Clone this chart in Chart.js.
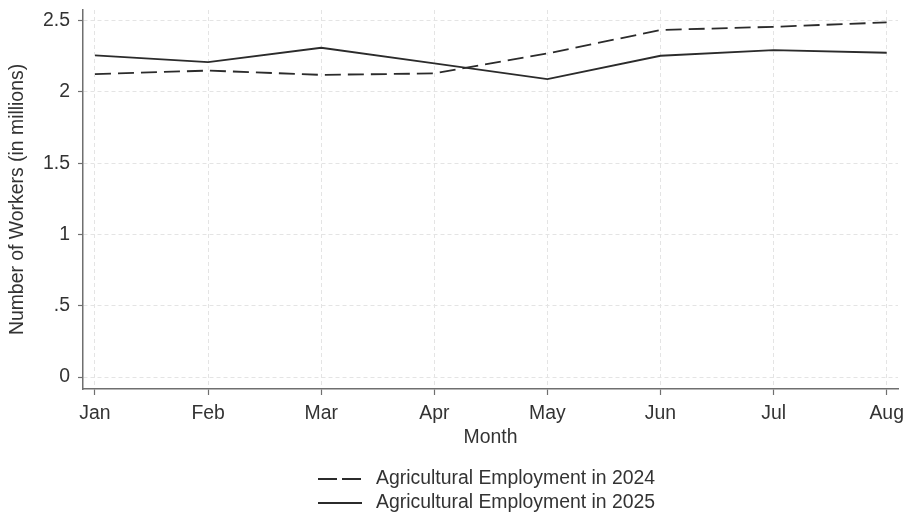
<!DOCTYPE html>
<html>
<head>
<meta charset="utf-8">
<title>Agricultural Employment</title>
<script src="https://cdn.jsdelivr.net/npm/chart.js@4/dist/chart.umd.min.js"></script>
<style>
  html, body { margin: 0; padding: 0; background: #ffffff; }
  #wrap { width: 905px; height: 517px; }
</style>
</head>
<body>
<div id="wrap"><canvas id="chart" width="905" height="517"></canvas></div>
<script>
// Monthly agricultural employment, millions of workers
const months = ['Jan', 'Feb', 'Mar', 'Apr', 'May', 'Jun', 'Jul', 'Aug'];
const employment2024 = [2.125, 2.15, 2.12, 2.13, 2.27, 2.435, 2.457, 2.488];
const employment2025 = [2.256, 2.21, 2.31, 2.20, 2.09, 2.254, 2.294, 2.275];
const yTickValues = [0, 0.5, 1, 1.5, 2, 2.5];
const yTickLabels = ['0', '.5', '1', '1.5', '2', '2.5'];
const seriesNames = ['Agricultural Employment in 2024', 'Agricultural Employment in 2025'];

const FONT = "'Liberation Sans', Arial, Helvetica, sans-serif";
const FSIZE = 19.4;
const TEXT = '#333333';
const AXIS = '#6f6f6f';
const GRID = '#e4e4e4';
const LINE = '#2b2b2b';

const toPoints = arr => arr.map((v, i) => ({ x: i, y: v }));

// Two-row legend centred below the month title
const stackedLegend = {
  id: 'stackedLegend',
  afterDraw(chart) {
    const ctx = chart.ctx;
    const rows = [479, 503];
    const x0 = 318, x1 = 362, tx = 376;
    ctx.save();
    chart.data.datasets.forEach((ds, i) => {
      const y = rows[i];
      ctx.beginPath();
      ctx.setLineDash(ds.borderDash && ds.borderDash.length ? [19, 5] : []);
      ctx.lineWidth = ds.borderWidth;
      ctx.strokeStyle = ds.borderColor;
      ctx.moveTo(x0, y);
      ctx.lineTo(x1, y);
      ctx.stroke();
      ctx.setLineDash([]);
      ctx.font = FSIZE + 'px ' + FONT;
      ctx.fillStyle = TEXT;
      ctx.textBaseline = 'middle';
      ctx.textAlign = 'left';
      ctx.fillText(ds.label, tx, y);
    });
    ctx.restore();
  }
};

new Chart(document.getElementById('chart'), {
  type: 'line',
  data: {
    datasets: [
      {
        label: seriesNames[0],
        data: toPoints(employment2024),
        borderColor: LINE,
        borderWidth: 1.8,
        borderDash: [16, 7],
        pointRadius: 0,
        tension: 0,
        fill: false
      },
      {
        label: seriesNames[1],
        data: toPoints(employment2025),
        borderColor: LINE,
        borderWidth: 1.8,
        pointRadius: 0,
        tension: 0,
        fill: false
      }
    ]
  },
  options: {
    responsive: false,
    animation: false,
    devicePixelRatio: 1,
    layout: { padding: { top: 10, right: 7, left: 0, bottom: 68 } },
    plugins: {
      legend: { display: false },
      tooltip: { enabled: false }
    },
    scales: {
      x: {
        type: 'linear',
        min: -0.106,
        max: 7.1,
        afterBuildTicks(scale) {
          scale.ticks = months.map((_, i) => ({ value: i }));
        },
        afterFit(scale) {
          scale.height = 60;
          scale.paddingLeft = 0;
          scale.paddingRight = 0;
        },
        ticks: {
          autoSkip: false,
          maxRotation: 0,
          padding: 7,
          color: TEXT,
          font: { family: FONT, size: FSIZE },
          callback: (v) => months[v]
        },
        grid: {
          color: GRID,
          lineWidth: 1,
          tickLength: 6,
          tickColor: AXIS,
          tickWidth: 1.2,
          tickBorderDash: []
        },
        border: { display: true, color: AXIS, width: 1.5, dash: [4, 3] },
        title: {
          display: true,
          text: 'Month',
          color: TEXT,
          font: { family: FONT, size: FSIZE },
          padding: { top: 0, bottom: 0 }
        }
      },
      y: {
        min: -0.084,
        max: 2.575,
        afterBuildTicks(scale) {
          scale.ticks = yTickValues.map(v => ({ value: v }));
        },
        afterFit(scale) {
          scale.width = 83;
          scale.paddingTop = 0;
          scale.paddingBottom = 0;
        },
        ticks: {
          padding: 8,
          color: TEXT,
          font: { family: FONT, size: FSIZE },
          callback: (v) => {
            const k = yTickValues.indexOf(v);
            return k >= 0 ? yTickLabels[k] : '';
          }
        },
        grid: {
          color: GRID,
          lineWidth: 1,
          tickLength: 5,
          tickColor: AXIS,
          tickWidth: 1.2,
          tickBorderDash: []
        },
        border: { display: true, color: AXIS, width: 1.5, dash: [4, 3] },
        title: {
          display: true,
          text: 'Number of Workers (in millions)',
          color: TEXT,
          font: { family: FONT, size: FSIZE },
          padding: { top: 6, bottom: 0 }
        }
      }
    }
  },
  plugins: [stackedLegend]
});
</script>
</body>
</html>
